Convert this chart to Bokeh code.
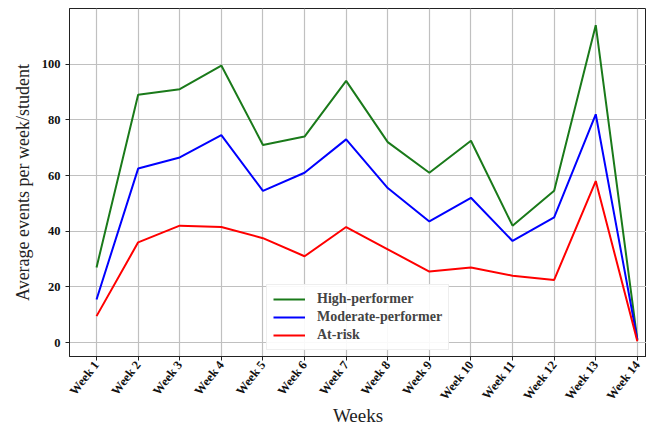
import math
from bokeh.plotting import figure
from bokeh.models import Range1d, FixedTicker, Legend, LegendItem
from bokeh.embed import file_html
from bokeh.resources import INLINE

weeks = [1, 2, 3, 4, 5, 6, 7, 8, 9, 10, 11, 12, 13, 14]
week_labels = ["Week 1", "Week 2", "Week 3", "Week 4", "Week 5", "Week 6", "Week 7",
               "Week 8", "Week 9", "Week 10", "Week 11", "Week 12", "Week 13", "Week 14"]
high = [27, 89, 91, 99.5, 71, 74, 94, 72, 61, 72.5, 42, 54.5, 114, 1]
moderate = [15.5, 62.5, 66.5, 74.5, 54.5, 61, 73, 55.5, 43.5, 52, 36.5, 45, 82, 1]
at_risk = [9.5, 36, 42, 41.5, 37.5, 31, 41.5, 33.5, 25.5, 27, 24, 22.5, 58, 0.5]
y_ticks = [0, 20, 40, 60, 80, 100]

FONT = "Liberation Serif"

p = figure(width=646, height=428, output_backend="svg", toolbar_location=None,
           x_range=Range1d(0.35, 14.22), y_range=Range1d(-5, 120),
           min_border_left=69, min_border_right=0, min_border_top=8, min_border_bottom=70)

r1 = p.line(weeks, high, line_color="#1a7a1a", line_width=2)
r2 = p.line(weeks, moderate, line_color="#0000ff", line_width=2)
r3 = p.line(weeks, at_risk, line_color="#ff0000", line_width=2)

p.xaxis.ticker = FixedTicker(ticks=weeks)
p.xaxis.major_label_overrides = {w: l for w, l in zip(weeks, week_labels)}
p.xaxis.major_label_orientation = math.radians(52)
p.yaxis.ticker = FixedTicker(ticks=y_ticks)

for ax in (p.xaxis[0], p.yaxis[0]):
    ax.major_label_text_font = FONT
    ax.major_label_text_font_style = "bold"
    ax.major_label_text_font_size = "12.5px"
    ax.major_label_text_color = "#111111"
    ax.axis_label_text_font = FONT
    ax.axis_label_text_font_style = "normal"
    ax.axis_label_text_color = "#222222"
    ax.axis_line_color = "#222222"
    ax.major_tick_line_color = "#222222"
    ax.major_tick_in = 0
    ax.major_tick_out = 4
    ax.minor_tick_line_color = None

p.xaxis.axis_label = "Weeks"
p.xaxis.axis_label_text_font_size = "19px"
p.xaxis.axis_label_standoff = -5
p.xaxis.major_label_standoff = 2
p.yaxis.axis_label = "Average events per week/student"
p.yaxis.axis_label_text_font_size = "18px"
p.yaxis.axis_label_standoff = 6

p.xgrid.grid_line_color = "#c0c0c0"
p.ygrid.grid_line_color = "#c0c0c0"
p.xgrid.ticker = FixedTicker(ticks=weeks)
p.ygrid.ticker = FixedTicker(ticks=y_ticks)
p.grid.grid_line_width = 1.2

p.outline_line_color = "#222222"
p.outline_line_width = 1

legend = Legend(items=[LegendItem(label="High-performer", renderers=[r1]),
                       LegendItem(label="Moderate-performer", renderers=[r2]),
                       LegendItem(label="At-risk", renderers=[r3])],
                location=(197, 6))
legend.label_text_font = FONT
legend.label_text_font_style = "bold"
legend.label_text_font_size = "14px"
legend.glyph_width = 32
legend.glyph_height = 16
legend.spacing = 2
legend.padding = 6
legend.label_standoff = 12
legend.border_line_color = "#dddddd"
legend.background_fill_alpha = 0.9
p.add_layout(legend, "center")

open("out.html", "w").write(file_html(p, INLINE))
